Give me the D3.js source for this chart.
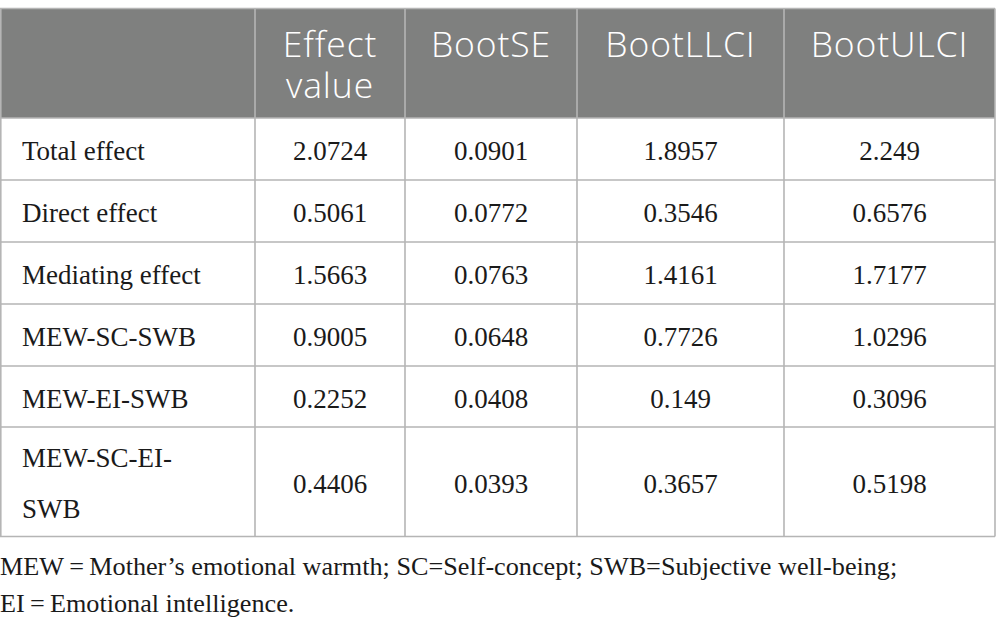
<!DOCTYPE html>
<html>
<head>
<meta charset="utf-8">
<script src="https://cdn.jsdelivr.net/npm/d3@7"></script>
<style>
  body { margin: 0; background: #fff; }
  svg { display: block; }
</style>
</head>
<body>
<div id="chart"></div>
<script>
"use strict";

// == DATA ==
var columns = ["Effect value", "BootSE", "BootLLCI", "BootULCI"];
var rowLabels = ["Total effect", "Direct effect", "Mediating effect",
                 "MEW-SC-SWB", "MEW-EI-SWB", "MEW-SC-EI-SWB"];
var effectValue = ["2.0724", "0.5061", "1.5663", "0.9005", "0.2252", "0.4406"];
var bootSE      = ["0.0901", "0.0772", "0.0763", "0.0648", "0.0408", "0.0393"];
var bootLLCI    = ["1.8957", "0.3546", "1.4161", "0.7726", "0.149", "0.3657"];
var bootULCI    = ["2.249", "0.6576", "1.7177", "1.0296", "0.3096", "0.5198"];
var footnote = ["MEW\u2009=\u2009Mother\u2019s emotional warmth; SC=Self-concept; SWB=Subjective well-being;",
                "EI\u2009=\u2009Emotional intelligence."];

// == LAYOUT ==
var width = 998, height = 631;
var colEdges = [0, 255, 405, 577, 784, 995];
var rowEdges = [8.5, 118, 180, 242, 304, 366, 427, 536.5];
var lineColor = "#b5b5b5", headFill = "#7f807f";

var svg = d3.select("#chart")
            .append("svg")
            .attr("width", width)
            .attr("height", height);

var colScale = d3.scaleOrdinal().domain(d3.range(colEdges.length)).range(colEdges);
var rowScale = d3.scaleOrdinal().domain(d3.range(rowEdges.length)).range(rowEdges);

var valueCols = [effectValue, bootSE, bootLLCI, bootULCI];

// header background
svg.append("rect")
   .attr("x", colScale(0))
   .attr("y", rowScale(0))
   .attr("width", colScale(5) - colScale(0))
   .attr("height", rowScale(1) - rowScale(0))
   .attr("fill", headFill);

// grid lines
svg.selectAll("line.h")
   .data(rowEdges)
   .enter()
   .append("line")
   .attr("class", "h")
   .attr("x1", colScale(0)).attr("x2", colScale(5))
   .attr("y1", function (d) { return d; })
   .attr("y2", function (d) { return d; })
   .attr("stroke", lineColor)
   .attr("stroke-width", 1.6);

svg.selectAll("line.v")
   .data(colEdges)
   .enter()
   .append("line")
   .attr("class", "v")
   .attr("y1", rowScale(0)).attr("y2", rowScale(7))
   .attr("x1", function (d, i) { return i === 0 ? d + 0.8 : d; })
   .attr("x2", function (d, i) { return i === 0 ? d + 0.8 : d; })
   .attr("stroke", lineColor)
   .attr("stroke-width", 1.6);

// header text
var headFont = "'Open Sans', sans-serif";
columns.forEach(function (c, i) {
  var cx = (colScale(i + 1) + colScale(i + 2)) / 2;
  var words = c === "Effect value" ? ["Effect", "value"] : [c];
  words.forEach(function (w, j) {
    svg.append("text")
       .attr("x", cx)
       .attr("y", 57 + j * 41)
       .attr("text-anchor", "middle")
       .attr("font-family", headFont)
       .attr("font-weight", 300)
       .attr("font-size", "35.5px")
       .attr("letter-spacing", "0.9px")
       .attr("fill", "#fff")
       .text(w);
  });
});

// body text
var bodyFont = "'Liberation Serif', 'Times New Roman', serif";
rowLabels.forEach(function (lab, r) {
  var top = rowScale(r + 1), bot = rowScale(r + 2);
  var base = (top + bot) / 2 + 11;
  var lines = lab === "MEW-SC-EI-SWB" ? ["MEW-SC-EI-", "SWB"] : [lab];
  lines.forEach(function (l, j) {
    svg.append("text")
       .attr("x", 22)
       .attr("y", lines.length > 1 ? base - 25.5 + j * 51 : base)
       .attr("font-family", bodyFont)
       .attr("font-size", "27px")
       .attr("fill", "#1a1a1a")
       .text(l);
  });
  valueCols.forEach(function (vals, c) {
    svg.append("text")
       .attr("x", (colScale(c + 1) + colScale(c + 2)) / 2)
       .attr("y", base)
       .attr("text-anchor", "middle")
       .attr("font-family", bodyFont)
       .attr("font-size", "27px")
       .attr("fill", "#1a1a1a")
       .text(vals[r]);
  });
});

// footnote
svg.selectAll("text.note")
   .data(footnote)
   .enter()
   .append("text")
   .attr("class", "note")
   .attr("x", 0)
   .attr("y", function (d, i) { return 575 + i * 37; })
   .attr("font-family", bodyFont)
   .attr("font-size", "26.2px")
   .attr("fill", "#1a1a1a")
   .text(function (d) { return d; });
</script>
</body>
</html>
